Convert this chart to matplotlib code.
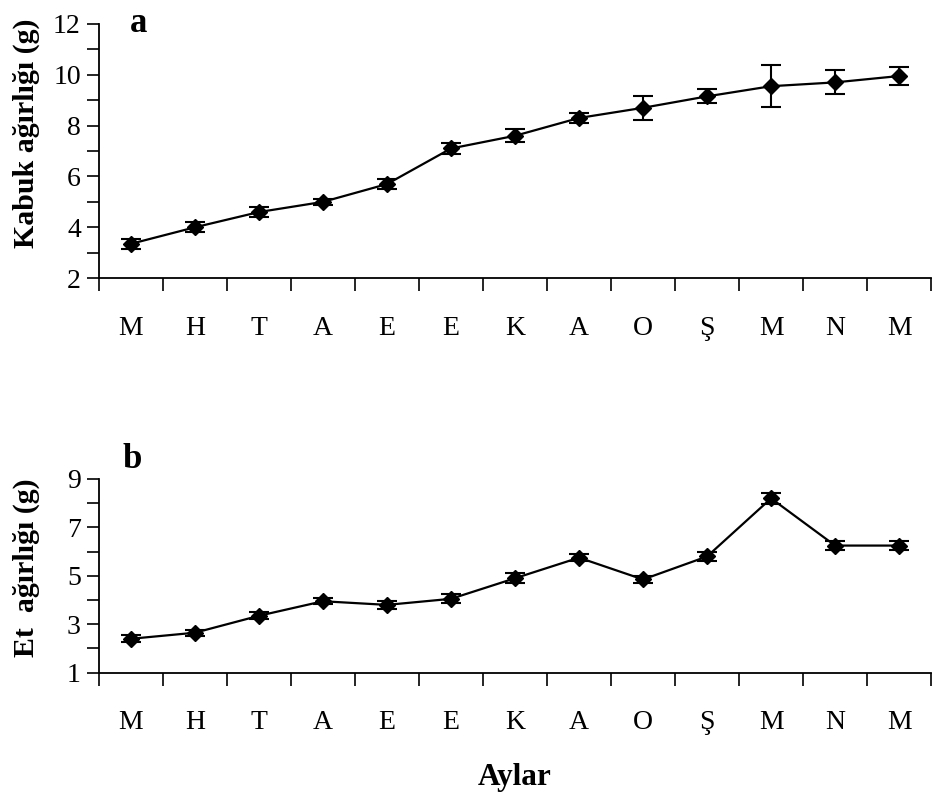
import matplotlib
matplotlib.use("Agg")
import matplotlib.pyplot as plt
from matplotlib.ticker import MultipleLocator, FixedLocator, NullFormatter
import numpy as np

months = ["M", "H", "T", "A", "E", "E", "K", "A", "O", "Ş", "M", "N", "M"]

shell_weight = [3.35, 4.0, 4.6, 5.0, 5.7, 7.1, 7.6, 8.3, 8.7, 9.15, 9.55, 9.7, 9.95]
shell_err = [0.2, 0.2, 0.2, 0.12, 0.2, 0.2, 0.25, 0.2, 0.47, 0.28, 0.83, 0.47, 0.35]

meat_weight = [2.4, 2.65, 3.35, 3.95, 3.8, 4.05, 4.9, 5.75, 4.85, 5.8, 8.2, 6.25, 6.25]
meat_err = [0.15, 0.12, 0.15, 0.12, 0.15, 0.18, 0.2, 0.15, 0.15, 0.2, 0.22, 0.2, 0.18]

plt.rcParams["font.family"] = ["Liberation Serif", "DejaVu Serif"]

fig = plt.figure(figsize=(9.33, 7.97), dpi=100)
ax1 = fig.add_axes([0.106, 0.651, 0.892, 0.319])
ax2 = fig.add_axes([0.106, 0.156, 0.892, 0.243])

x = np.arange(len(months))


def style(ax, y, err, ylim, major, offset, ylabel, label_y, letter, letter_pos):
    ax.errorbar(x, y, yerr=err, color="black", lw=1.6, marker="D", ms=8.5,
                mfc="black", mec="black", ecolor="black", elinewidth=1.5,
                capsize=7.5, capthick=1.5, clip_on=False, zorder=3)
    ax.set_xlim(-0.5, len(months) - 0.5)
    ax.set_ylim(*ylim)
    for s in ("top", "right"):
        ax.spines[s].set_visible(False)
    for s in ("left", "bottom"):
        ax.spines[s].set_linewidth(1.3)
    # boundaries between months carry the tick marks; labels sit at the centres
    ax.xaxis.set_major_locator(FixedLocator(np.arange(-0.5, len(months), 1.0)))
    ax.xaxis.set_major_formatter(NullFormatter())
    ax.xaxis.set_minor_locator(FixedLocator(x))
    ax.set_xticklabels(months, minor=True)
    ax.tick_params(axis="x", which="major", direction="out", length=9, width=1.2)
    ax.tick_params(axis="x", which="minor", length=0, pad=27, labelsize=20)
    ax.yaxis.set_major_locator(MultipleLocator(major, offset=offset))
    ax.yaxis.set_minor_locator(MultipleLocator(major / 2))
    ax.tick_params(axis="y", which="major", direction="out", length=9, width=1.2,
                   labelsize=20, pad=4)
    ax.tick_params(axis="y", which="minor", direction="out", length=9, width=1.2)
    ax.set_ylabel(ylabel, fontsize=21.5, fontweight="bold", labelpad=4)
    ax.yaxis.set_label_coords(-0.071, label_y)
    ax.text(letter_pos[0], letter_pos[1], letter, transform=ax.transAxes,
            fontsize=25, fontweight="bold", ha="left", va="center")


style(ax1, shell_weight, shell_err, (2, 12), 2, 0, "Kabuk ağırlığı (g)", 0.571,
      "a", (0.037, 1.0))
style(ax2, meat_weight, meat_err, (1, 9), 2, 1, "Et  ağırlığı (g)", 0.54,
      "b", (0.028, 1.1))
ax2.set_xlabel("Aylar", fontsize=22.5, fontweight="bold", labelpad=20)

fig.savefig("out.png", dpi=100)
